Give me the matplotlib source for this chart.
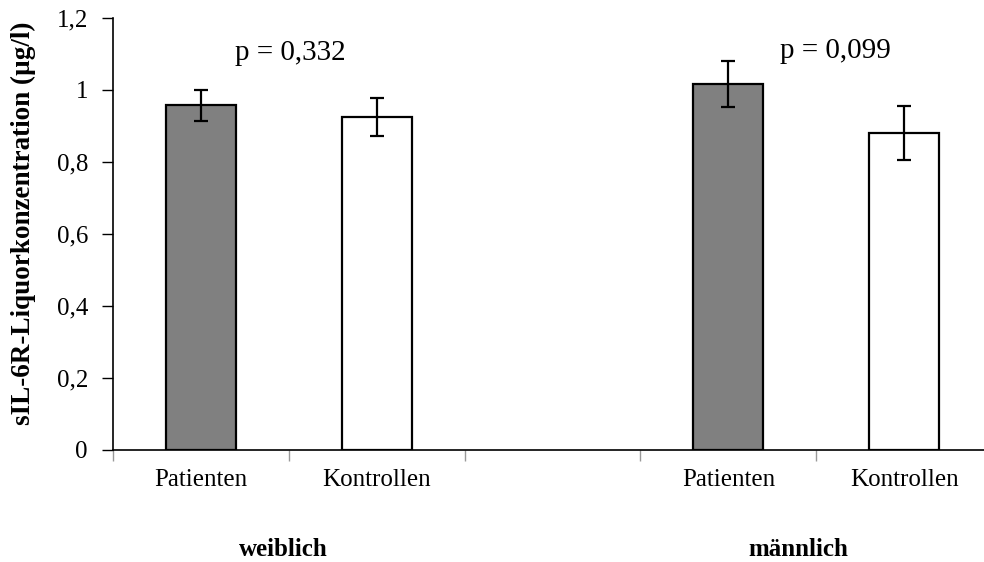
import matplotlib
matplotlib.use("Agg")
import matplotlib.pyplot as plt
from matplotlib.ticker import FuncFormatter

# data
categories = ["Patienten", "Kontrollen", "", "Patienten", "Kontrollen"]
means = [0.957, 0.924, None, 1.017, 0.880]
errors = [0.044, 0.053, None, 0.063, 0.075]
colors = ["#808080", "#ffffff", None, "#808080", "#ffffff"]
groups = ["weiblich", "männlich"]
p_values = ["p = 0,332", "p = 0,099"]

plt.rcParams["font.family"] = ["Liberation Serif", "DejaVu Serif"]

fig = plt.figure(figsize=(9.84, 5.62), dpi=100)
ax = fig.add_axes([113 / 984, 1 - 450 / 562, 879 / 984, 432 / 562])

for i, (m, e, c) in enumerate(zip(means, errors, colors)):
    if m is None:
        continue
    ax.bar(i, m, width=0.4, color=c, edgecolor="black", linewidth=1.6, zorder=2)
    ax.errorbar(i, m, yerr=e, fmt="none", ecolor="black", elinewidth=1.6,
                capsize=4.7, capthick=1.6, zorder=3)

ax.set_xlim(-0.5, len(categories) - 0.5)
ax.set_ylim(0, 1.2)
ax.set_yticks([0, 0.2, 0.4, 0.6, 0.8, 1.0, 1.2])
ax.yaxis.set_major_formatter(
    FuncFormatter(lambda v, _: f"{v:g}".replace(".", ",")))

# category boundaries as ticks, labels centred on the slots
ax.set_xticks([i - 0.5 for i in range(len(categories) + 1)])
ax.set_xticklabels([])
ax.set_xticks(range(len(categories)), minor=True)
ax.set_xticklabels(categories, minor=True)
ax.tick_params(axis="x", which="minor", length=0, pad=14, labelsize=18)
ax.tick_params(axis="x", which="major", length=8, width=1, color="#999999",
               direction="out")
ax.tick_params(axis="y", length=8, width=1, direction="out", pad=10,
               labelsize=18)

for side in ["top", "right"]:
    ax.spines[side].set_visible(False)
for side in ["left", "bottom"]:
    ax.spines[side].set_linewidth(1.2)

ax.set_ylabel("sIL-6R-Liquorkonzentration (µg/l)", fontsize=19.5,
              fontweight="bold")
ax.yaxis.set_label_coords(-0.0876, 0.525)

# group labels below the category labels
ax.text(0.47, -0.231, groups[0], transform=ax.get_xaxis_transform(),
        ha="center", va="center", fontsize=18, fontweight="bold")
ax.text(3.40, -0.231, groups[1], transform=ax.get_xaxis_transform(),
        ha="center", va="center", fontsize=18, fontweight="bold")

# p-values
ax.text(0.51, 1.103, p_values[0], ha="center", va="center", fontsize=21)
ax.text(3.61, 1.107, p_values[1], ha="center", va="center", fontsize=21)

fig.savefig("out.png", dpi=100)
